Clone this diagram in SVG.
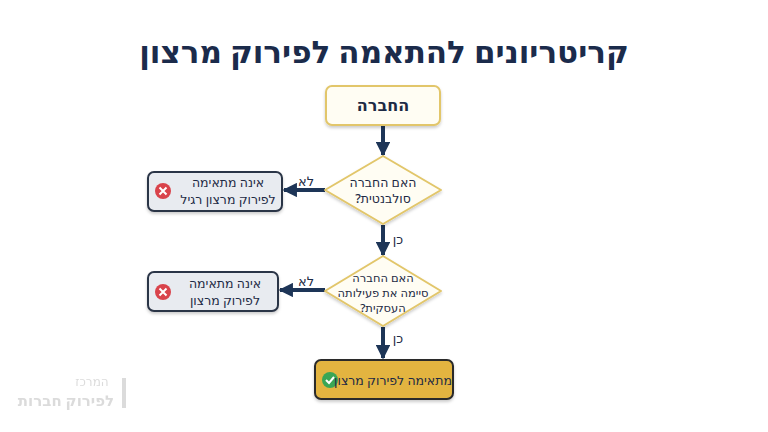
<svg xmlns="http://www.w3.org/2000/svg" width="768" height="432" viewBox="0 0 768 432">
<defs>
<marker id="ah" viewBox="0 0 10 10" refX="9" refY="5" markerWidth="3.6" markerHeight="3.6" orient="auto"><path d="M0,0L10,5L0,10z" fill="#1d3557"/></marker>
<filter id="sh" x="-10%" y="-10%" width="120%" height="130%"><feDropShadow dx="0" dy="2" stdDeviation="1.5" flood-opacity="0.2"/></filter>
</defs>
<style>
text{font-family:"Noto Sans","DejaVu Sans",sans-serif;fill:#1d2a44;text-anchor:middle;direction:rtl;unicode-bidi:embed}
.t{font-size:16px;font-weight:bold}
.s{font-size:12.5px;font-weight:500}
.d{font-size:11.5px;font-weight:500}
.l{font-size:13px;font-weight:500}
.c{stroke:#1d3557;stroke-width:4;fill:none;marker-end:url(#ah)}
.no{fill:#e8ebf0;stroke:#2b3446;stroke-width:2}
</style>
<rect width="768" height="432" fill="#ffffff"/>
<text x="384" y="63" style="font-size:31px;font-weight:bold;fill:#1b2b4b">קריטריונים להתאמה לפירוק מרצון</text>
<g id="connectors">
<line class="c" x1="383" y1="126" x2="383" y2="155"/>
<line class="c" x1="325" y1="190" x2="284" y2="190"/>
<line class="c" x1="383" y1="225" x2="383" y2="255"/>
<line class="c" x1="325" y1="290" x2="280" y2="290"/>
<line class="c" x1="383" y1="327" x2="383" y2="358"/>
<text x="306" y="186" class="l">לא</text>
<text x="306" y="286" class="l">לא</text>
<text x="398" y="244" class="l">כן</text>
<text x="398" y="343" class="l">כן</text>
</g>
<g id="start">
<rect x="326" y="86" width="114" height="39" rx="6" fill="#fffdf3" stroke="#e2c66a" stroke-width="2" filter="url(#sh)"/>
<text x="383" y="111" class="t">החברה</text>
</g>
<g id="q1">
<path d="M383,156L441,190L383,224L325,190z" fill="#fffdf3" stroke="#e2c66a" stroke-width="2" stroke-linejoin="round" filter="url(#sh)"/>
<text x="383" y="187" class="s">האם החברה</text>
<text x="383" y="203" class="s">סולבנטית?&#x200F;</text>
</g>
<g id="no1">
<rect x="148" y="172" width="134" height="39" rx="6" class="no" filter="url(#sh)"/>
<circle cx="163" cy="191" r="8" fill="#d9434b"/>
<path d="M159.5,187.5l7,7m0,-7l-7,7" stroke="#fff" stroke-width="2"/>
<text x="228" y="187" class="s">אינה מתאימה</text>
<text x="228" y="204" class="s">לפירוק מרצון רגיל</text>
</g>
<g id="q2">
<path d="M383,256L441,291L383,326L325,291z" fill="#fffdf3" stroke="#e2c66a" stroke-width="2" stroke-linejoin="round" filter="url(#sh)"/>
<text x="383" y="282" class="d">האם החברה</text>
<text x="383" y="297" class="d">סיימה את פעילותה</text>
<text x="383" y="312" class="d">העסקית?&#x200F;</text>
</g>
<g id="no2">
<rect x="148" y="272" width="130" height="39" rx="6" class="no" filter="url(#sh)"/>
<circle cx="163" cy="292" r="8" fill="#d9434b"/>
<path d="M159.5,288.5l7,7m0,-7l-7,7" stroke="#fff" stroke-width="2"/>
<text x="225" y="288" class="s">אינה מתאימה</text>
<text x="225" y="305" class="s">לפירוק מרצון</text>
</g>
<g id="yes">
<rect x="315" y="360" width="138" height="39" rx="6" fill="#e3b440" stroke="#2b2b2b" stroke-width="2" filter="url(#sh)"/>
<circle cx="330" cy="380" r="8" fill="#3aa655"/>
<path d="M326,380l3,3l5,-6" stroke="#fff" stroke-width="2" fill="none"/>
<text x="393" y="385" class="s">מתאימה לפירוק מרצון</text>
</g>
<g id="logo" opacity="0.35">
<text x="92" y="386" style="font-size:12px;fill:#999">המרכז</text>
<text x="66" y="406" style="font-size:15px;font-weight:bold;fill:#999">לפירוק חברות</text>
<rect x="122" y="378" width="4" height="30" fill="#999"/>
</g>
</svg>
